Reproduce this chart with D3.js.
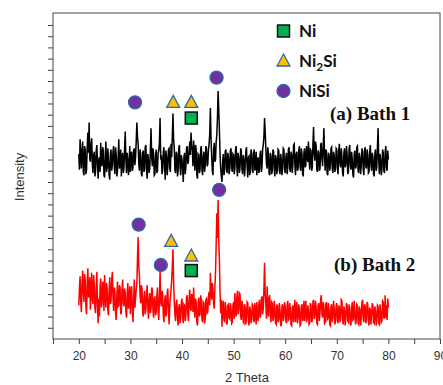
<!DOCTYPE html>
<html>
<head>
<meta charset="utf-8">
<script src="https://cdn.jsdelivr.net/npm/d3@7"></script>
<style>
  html, body { margin: 0; padding: 0; background: #fff; }
  svg { display: block; }
</style>
</head>
<body>
<svg id="chart" width="443" height="385"></svg>
<script>
// ==================== DATA ====================
const thetaStart = 20;
const thetaStep = 0.125;

// Bath 1 (black trace), one value per 0.125 deg from 20 to 80
const bath1 = [
  16.5, 15.1, 17.8, 16.3, 15.2, 16.9, 17.6, 14.9, 14.6, 17.2, 16.9, 14.7, 15.1, 17.0, 18.4, 16.6, 19.3, 16.1, 15.8, 17.4, 17.9, 15.6, 14.8, 16.4, 16.7, 14.5, 15.0, 16.8, 17.3, 15.5, 14.3, 16.0, 16.2, 14.9, 17.5, 15.7, 15.4, 17.1, 16.8, 14.6,
  14.4, 16.2, 17.6, 14.9, 15.3, 17.0, 16.1, 14.6, 14.2, 16.5, 16.9, 15.0, 15.5, 16.7, 17.2, 15.4, 14.7, 17.1, 16.4, 14.5, 15.0, 16.3, 17.8, 15.2, 15.6, 16.9, 14.5, 16.1, 16.6, 14.8, 15.2, 17.0, 18.5, 15.9, 14.8, 16.6, 16.0, 14.6, 15.4, 17.2,
  14.9, 16.4, 16.7, 15.0, 15.3, 16.8, 17.0, 15.5, 16.2, 17.6, 19.3, 18.0, 17.4, 15.6, 15.0, 16.9, 16.4, 14.7, 14.5, 16.6, 16.8, 14.9, 15.1, 17.1, 17.3, 15.2, 14.3, 16.5, 16.0, 14.8, 15.2, 16.9, 18.8, 16.2, 15.4, 17.0, 16.5, 14.6, 14.7, 16.3,
  16.9, 14.8, 15.0, 16.6, 16.8, 17.5, 19.7, 16.0, 16.4, 14.7, 15.1, 16.7, 17.1, 15.3, 14.2, 16.8, 16.3, 14.6, 15.4, 16.9, 17.0, 15.2, 14.9, 17.4, 16.2, 18.1, 20.1, 17.8, 17.0, 15.1, 14.8, 16.7, 16.5, 14.5, 15.0, 17.0, 17.3, 15.3, 14.6, 16.4,
  16.0, 15.1, 14.0, 16.2, 16.6, 14.7, 15.3, 17.0, 17.2, 15.6, 15.9, 16.8, 17.6, 16.4, 18.4, 17.3, 16.8, 15.4, 17.7, 16.5, 15.0, 17.3, 16.9, 14.6, 14.3, 16.5, 16.4, 14.8, 15.1, 17.0, 17.2, 15.0, 14.6, 16.3, 16.7, 14.9, 15.5, 17.2, 17.0, 15.4,
  15.6, 16.8, 17.4, 18.3, 20.6, 17.9, 16.3, 15.0, 14.6, 16.8, 17.5, 15.8, 16.0, 17.6, 18.2, 19.8, 22.1, 20.4, 18.6, 16.4, 15.2, 14.5, 14.0, 15.8, 16.5, 14.6, 15.0, 16.7, 16.9, 15.2, 14.8, 16.6, 16.2, 14.7, 15.1, 16.8, 17.0, 15.3, 14.9, 16.5,
  16.4, 14.7, 15.2, 16.9, 17.2, 15.4, 14.5, 16.6, 16.1, 14.8, 15.3, 17.0, 16.8, 15.1, 14.7, 16.4, 16.0, 14.5, 15.5, 16.8, 17.1, 15.3, 14.4, 16.2, 16.3, 14.6, 15.0, 16.9, 16.6, 15.1, 14.8, 16.5, 16.9, 15.0, 15.4, 16.7, 14.6, 15.9, 16.2, 14.8,
  15.1, 16.5, 16.8, 14.9, 15.3, 16.9, 17.3, 18.0, 19.7, 18.4, 17.0, 15.6, 15.2, 17.1, 16.5, 14.8, 14.6, 16.6, 16.3, 14.7, 15.0, 16.9, 16.7, 15.2, 14.5, 16.4, 16.1, 14.7, 15.2, 16.9, 16.8, 15.0, 14.7, 16.5, 16.0, 14.6, 15.4, 17.0, 16.9, 15.1,
  14.8, 16.2, 16.6, 14.7, 15.3, 16.9, 17.1, 15.2, 14.9, 16.7, 16.4, 14.8, 15.6, 17.3, 17.4, 15.5, 14.6, 16.5, 16.7, 15.0, 15.2, 16.8, 17.2, 15.4, 15.0, 17.0, 16.5, 14.7, 14.5, 16.6, 17.0, 15.3, 15.5, 17.2, 16.3, 15.8, 17.6, 16.1, 15.1, 16.9,
  16.8, 15.0, 15.3, 17.4, 18.9, 16.5, 15.9, 17.6, 17.2, 15.1, 14.9, 16.8, 16.6, 15.0, 15.2, 17.3, 17.5, 16.0, 15.4, 17.2, 18.8, 16.3, 15.0, 16.9, 16.7, 14.8, 14.6, 16.6, 16.4, 15.0, 15.5, 17.0, 17.1, 15.2, 14.8, 16.7, 16.3, 14.9, 15.2, 17.0,
  16.9, 15.2, 14.7, 16.8, 17.4, 15.6, 15.3, 17.0, 16.2, 14.8, 14.5, 16.6, 17.0, 15.3, 15.6, 17.2, 16.5, 14.7, 14.9, 16.9, 17.3, 15.5, 15.1, 16.7, 16.0, 14.6, 14.4, 16.5, 16.8, 15.2, 15.4, 17.1, 17.2, 15.0, 14.8, 16.6, 16.1, 14.7, 15.5, 17.0,
  16.7, 15.1, 14.6, 16.8, 17.1, 15.4, 15.2, 16.9, 16.4, 14.8, 14.9, 16.7, 17.3, 15.5, 15.0, 16.6, 16.2, 14.7, 14.5, 16.5, 16.9, 15.0, 15.3, 17.1, 18.8, 16.0, 14.7, 16.5, 16.0, 14.6, 15.1, 16.9, 16.6, 15.0, 14.8, 16.7, 17.2, 15.3, 15.0, 16.8,
  16.0
];

// Bath 2 (red trace)
const bath2 = [
  3.0, 4.6, 5.6, 3.4, 2.4, 4.9, 6.1, 4.2, 3.3, 5.8, 5.2, 2.9, 2.2, 5.0, 6.3, 3.7, 4.0, 5.5, 2.6, 4.4, 5.9, 3.5, 3.1, 5.7, 4.8, 2.7, 2.3, 4.5, 6.0, 3.0, 1.4, 3.6, 2.0, 4.7, 5.4, 2.8, 3.2, 5.1, 4.9, 2.5,
  5.7, 3.9, 2.8, 5.0, 4.5, 2.6, 2.1, 4.3, 5.5, 3.1, 3.4, 5.2, 6.0, 3.8, 2.5, 4.6, 4.2, 2.3, 1.7, 3.9, 5.1, 2.9, 3.0, 4.8, 4.6, 2.2, 2.4, 4.4, 5.3, 3.2, 2.9, 4.5, 4.1, 2.4, 1.9, 4.0, 5.0, 2.7, 3.3, 4.7,
  2.2, 3.9, 4.7, 2.6, 1.5, 3.4, 5.3, 2.8, 3.6, 4.4, 4.9, 7.2, 9.1, 6.5, 5.6, 3.9, 3.2, 4.8, 4.5, 2.4, 2.0, 3.7, 4.3, 2.2, 2.6, 4.1, 4.8, 2.9, 1.8, 3.5, 4.1, 2.3, 2.7, 4.6, 4.4, 2.5, 1.9, 3.6, 3.8, 2.1,
  2.4, 3.8, 4.6, 2.5, 1.7, 3.6, 6.0, 3.3, 2.9, 4.3, 4.0, 2.1, 1.5, 3.3, 3.9, 2.0, 2.3, 4.1, 4.5, 2.6, 1.3, 3.0, 3.7, 4.4, 5.2, 6.4, 8.0, 5.1, 3.4, 2.2, 1.6, 3.2, 3.5, 1.9, 1.2, 2.8, 3.1, 1.4, 1.8, 3.3,
  3.6, 2.0, 1.4, 3.1, 3.0, 1.6, 2.1, 3.7, 3.9, 2.2, 1.6, 3.5, 4.4, 2.8, 2.5, 4.0, 3.8, 2.4, 4.6, 3.0, 1.9, 3.6, 3.3, 1.5, 1.2, 3.0, 3.7, 2.0, 2.2, 3.9, 3.4, 1.7, 1.5, 3.3, 3.2, 1.4, 1.8, 3.5, 3.6, 2.3,
  2.4, 3.7, 4.2, 3.0, 5.9, 4.4, 3.5, 5.0, 4.5, 3.2, 2.7, 4.6, 6.0, 8.5, 11.2, 9.0, 12.4, 8.8, 7.0, 4.1, 2.3, 3.5, 1.1, 2.9, 3.4, 1.7, 1.6, 3.3, 2.9, 1.5, 1.3, 3.0, 3.1, 1.9, 1.8, 3.2, 2.7, 1.4, 1.5, 3.0,
  3.3, 1.8, 4.1, 2.6, 2.0, 3.8, 4.3, 2.2, 2.6, 4.1, 4.0, 2.0, 1.7, 3.4, 3.0, 1.5, 1.4, 3.1, 2.8, 1.3, 1.9, 3.3, 3.2, 1.6, 1.2, 2.9, 2.6, 1.4, 1.8, 3.1, 3.0, 1.7, 1.5, 3.2, 2.4, 1.3, 3.3, 2.0, 1.6, 3.0,
  3.5, 1.9, 2.1, 3.6, 3.8, 2.2, 2.7, 4.4, 6.8, 4.0, 3.1, 1.8, 4.7, 2.6, 2.0, 3.7, 3.9, 2.1, 1.5, 3.3, 3.2, 1.6, 1.9, 3.4, 2.8, 1.4, 1.3, 3.0, 3.0, 1.5, 1.7, 3.2, 2.5, 1.2, 1.2, 2.9, 3.1, 1.6, 2.0, 3.3,
  2.9, 1.6, 1.4, 3.0, 3.4, 1.7, 1.8, 3.2, 2.6, 1.3, 1.2, 2.8, 3.0, 1.5, 2.2, 3.5, 1.5, 2.7, 3.3, 1.4, 1.9, 3.1, 2.7, 1.2, 1.3, 2.9, 3.1, 1.6, 2.0, 3.4, 1.6, 2.8, 3.4, 1.5, 1.8, 3.0, 2.5, 1.3, 1.4, 3.2,
  3.0, 1.5, 1.7, 3.3, 3.5, 1.8, 2.1, 3.4, 2.8, 1.4, 1.3, 3.0, 3.2, 1.6, 2.4, 3.6, 3.9, 2.2, 1.9, 3.3, 2.9, 1.4, 1.5, 3.1, 3.3, 1.7, 1.8, 3.2, 2.6, 1.3, 1.2, 2.9, 3.1, 1.5, 2.0, 3.4, 2.7, 1.3, 1.6, 3.0,
  3.2, 1.7, 1.4, 3.0, 2.8, 1.5, 2.0, 3.5, 3.4, 1.6, 1.3, 2.9, 2.5, 1.2, 1.9, 3.2, 3.0, 1.6, 1.5, 3.1, 2.7, 1.4, 1.2, 2.8, 3.3, 1.7, 1.8, 3.4, 2.4, 1.3, 1.6, 3.1, 3.0, 1.4, 1.3, 2.9, 2.6, 1.2, 1.9, 3.3,
  3.5, 1.8, 1.5, 3.1, 2.9, 1.4, 1.8, 3.3, 3.1, 1.6, 1.2, 2.8, 2.6, 1.3, 2.1, 3.2, 3.0, 1.5, 1.4, 2.9, 2.5, 1.2, 1.7, 3.0, 2.9, 1.4, 1.3, 3.1, 2.4, 1.5, 1.6, 3.4, 3.3, 1.8, 2.0, 3.9, 1.9, 3.0, 1.7, 3.6,
  2.8
];

// Phase markers placed over the peaks: [phase, 2theta, intensity]
const markersBath1 = [
  ['NiSi', 30.9, 21.1],
  ['Ni2Si', 38.3, 21.1],
  ['Ni2Si', 41.8, 21.1],
  ['Ni', 41.8, 19.7],
  ['NiSi', 46.7, 23.3]
];
const markersBath2 = [
  ['NiSi', 31.6, 10.2],
  ['Ni2Si', 37.9, 8.7],
  ['NiSi', 35.9, 6.6],
  ['Ni2Si', 41.8, 7.4],
  ['Ni', 41.8, 6.1],
  ['NiSi', 47.2, 13.3]
];

const legendPhases = ['Ni', 'Ni2Si', 'NiSi'];
const xTicks = d3.range(15, 91, 5);
const yTicks = d3.range(1, 29, 1);

// ==================== LAYOUT ====================
const svg = d3.select('#chart');
const plot = { left: 53, top: 13, right: 440, bottom: 339 };

const xScale = d3.scaleLinear().domain([15, 90]).range([plot.left, plot.right]);
const yScale = d3.scaleLinear().domain([0, 29]).range([plot.bottom, plot.top + 0.75]);

const PURPLE = '#7030a0';
const GOLD = '#ffc000';
const GREEN = '#00b050';
const BLUE_EDGE = '#2e6aa8';

// ==================== AXES ====================
svg.append('rect')
  .attr('x', plot.left)
  .attr('y', plot.top)
  .attr('width', plot.right - plot.left)
  .attr('height', plot.bottom - plot.top)
  .attr('fill', 'none')
  .attr('stroke', '#444')
  .attr('stroke-width', 1);

const xAxis = svg.append('g')
  .attr('transform', `translate(0,${plot.bottom})`)
  .call(d3.axisBottom(xScale)
    .tickValues(xTicks)
    .tickSize(5)
    .tickFormat(d => d % 10 === 0 ? d : ''));
xAxis.select('.domain').remove();
xAxis.selectAll('line').attr('stroke', '#444');
xAxis.selectAll('text')
  .attr('fill', '#333')
  .attr('dy', '1.05em')
  .style('font-family', 'Liberation Sans, Arial, sans-serif')
  .style('font-size', '12px');

const yAxis = svg.append('g')
  .attr('transform', `translate(${plot.left},0)`)
  .call(d3.axisLeft(yScale)
    .tickValues(yTicks)
    .tickSize(5)
    .tickFormat(''));
yAxis.select('.domain').remove();
yAxis.selectAll('line').attr('stroke', '#444');

svg.append('text')
  .attr('x', 247)
  .attr('y', 382)
  .attr('text-anchor', 'middle')
  .attr('fill', '#333')
  .style('font-family', 'Liberation Sans, Arial, sans-serif')
  .style('font-size', '13px')
  .text('2 Theta');

svg.append('text')
  .attr('transform', 'translate(24,177) rotate(-90)')
  .attr('text-anchor', 'middle')
  .attr('fill', '#333')
  .style('font-family', 'Liberation Sans, Arial, sans-serif')
  .style('font-size', '13px')
  .text('Intensity');

// ==================== TRACES ====================
const line = d3.line()
  .x((d, i) => xScale(thetaStart + i * thetaStep))
  .y(d => yScale(d));

svg.append('path')
  .datum(bath1)
  .attr('d', line)
  .attr('fill', 'none')
  .attr('stroke', '#000')
  .attr('stroke-width', 1.5);

svg.append('path')
  .datum(bath2)
  .attr('d', line)
  .attr('fill', 'none')
  .attr('stroke', '#ff0000')
  .attr('stroke-width', 1.5);

// ==================== MARKERS ====================
function drawMarker(g, phase, cx, cy) {
  if (phase === 'Ni') {
    g.append('rect')
      .attr('x', cx - 6).attr('y', cy - 6)
      .attr('width', 12).attr('height', 12)
      .attr('fill', GREEN)
      .attr('stroke', '#111')
      .attr('stroke-width', 1.5);
  } else if (phase === 'Ni2Si') {
    g.append('path')
      .attr('d', `M${cx},${cy - 7}L${cx + 6.5},${cy + 5}L${cx - 6.5},${cy + 5}Z`)
      .attr('fill', GOLD)
      .attr('stroke', BLUE_EDGE)
      .attr('stroke-width', 1.3);
  } else {
    g.append('circle')
      .attr('cx', cx).attr('cy', cy)
      .attr('r', 6.5)
      .attr('fill', PURPLE)
      .attr('stroke', BLUE_EDGE)
      .attr('stroke-width', 1.3);
  }
}

const markerLayer = svg.append('g');
markersBath1.concat(markersBath2).forEach(([phase, t, v]) => {
  drawMarker(markerLayer, phase, xScale(t), yScale(v));
});

// ==================== LEGEND ====================
const legend = svg.append('g');
legendPhases.forEach((phase, i) => {
  const cy = 31 + i * 30;
  drawMarker(legend, phase, 283.5, cy);
  const label = legend.append('text')
    .attr('x', 299)
    .attr('y', cy + 6)
    .attr('fill', '#111')
    .style('font-family', 'Lato, Open Sans, sans-serif')
    .style('font-weight', 'bold')
    .style('font-size', '17px');
  if (phase === 'Ni2Si') {
    label.append('tspan').text('Ni');
    label.append('tspan').attr('dy', 4).style('font-size', '12px').text('2');
    label.append('tspan').attr('dy', -4).text('Si');
  } else {
    label.text(phase);
  }
});

// ==================== SAMPLE LABELS ====================
const sampleLabels = [['(a) Bath 1', 330, 120], ['(b) Bath 2', 334, 271]];
sampleLabels.forEach(([txt, x, y]) => {
  svg.append('text')
    .attr('x', x)
    .attr('y', y)
    .attr('fill', '#111')
    .style('font-family', 'Liberation Serif, Times New Roman, serif')
    .style('font-weight', 'bold')
    .style('font-size', '19px')
    .text(txt);
});
</script>
</body>
</html>
